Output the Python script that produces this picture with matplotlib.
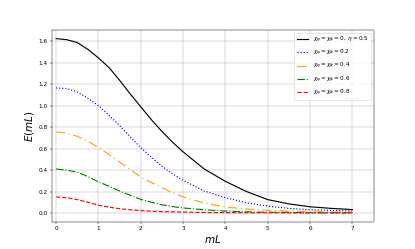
import numpy as np
import matplotlib
matplotlib.use("Agg")
import matplotlib.pyplot as plt

# values
mL = [0, 0.25, 0.5, 0.75, 1, 1.25, 1.5, 1.75, 2, 2.25, 2.5, 2.75, 3,
      3.5, 4, 4.5, 5, 5.5, 6, 6.5, 7]
E_eta = [1.625, 1.615, 1.588, 1.525, 1.445, 1.355, 1.237, 1.11, 0.99, 0.87, 0.76,
         0.66, 0.57, 0.41, 0.295, 0.20, 0.125, 0.085, 0.058, 0.043, 0.032]
E_02 = [1.165, 1.16, 1.128, 1.07, 1.00, 0.91, 0.815, 0.71, 0.61, 0.52, 0.435,
        0.365, 0.305, 0.205, 0.143, 0.095, 0.064, 0.043, 0.031, 0.024, 0.018]
E_04 = [0.755, 0.745, 0.715, 0.67, 0.61, 0.545, 0.475, 0.405, 0.335, 0.285, 0.237,
        0.19, 0.15, 0.093, 0.056, 0.037, 0.025, 0.018, 0.013, 0.010, 0.008]
E_06 = [0.41, 0.40, 0.38, 0.34, 0.29, 0.25, 0.205, 0.165, 0.127, 0.10, 0.077,
        0.06, 0.047, 0.03, 0.018, 0.011, 0.007, 0.005, 0.003, 0.002, 0.002]
E_08 = [0.15, 0.142, 0.125, 0.10, 0.073, 0.055, 0.04, 0.03, 0.022, 0.017, 0.013,
        0.011, 0.009, 0.005, 0.003, 0.002, 0.002, 0.001, 0.001, 0.001, 0.001]

labels = [r'$\chi_\psi=\chi_\phi=0,\,\eta=0.5$',
          r'$\chi_\psi=\chi_\phi=0.2$',
          r'$\chi_\psi=\chi_\phi=0.4$',
          r'$\chi_\psi=\chi_\phi=0.6$',
          r'$\chi_\psi=\chi_\phi=0.8$']

fig, ax = plt.subplots(figsize=(10, 6), dpi=41.5)
ax.plot(mL, E_eta, color='black', ls='-', lw=2, label=labels[0])
ax.plot(mL, E_02, color='blue', ls=':', lw=2, label=labels[1])
ax.plot(mL, E_04, color='orange', ls=(0, (8, 3, 1, 3)), lw=2, label=labels[2])
ax.plot(mL, E_06, color='green', ls='-.', lw=2, label=labels[3])
ax.plot(mL, E_08, color='red', ls='--', lw=2, label=labels[4])

ax.set_xlim(-0.1, 7.5)
ax.set_xlabel(r'$mL$', fontsize=18)
ax.set_ylabel(r'$E(mL)$', fontsize=18)
ax.grid(True)
ax.legend(loc='upper right')

plt.savefig('out.png')
